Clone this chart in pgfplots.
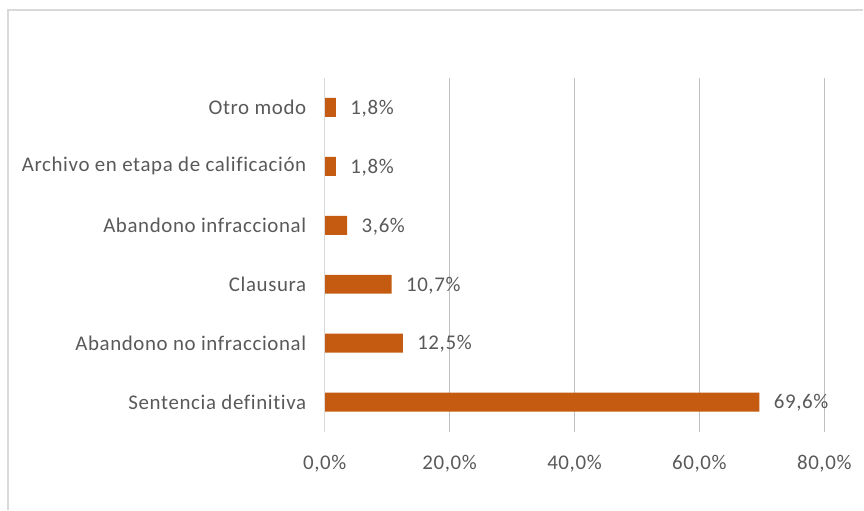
\documentclass[border=0pt]{standalone}
\usepackage{pgfplots}
\pgfplotsset{compat=1.18}
\usepackage{fontspec}
\setmainfont{Carlito}[LetterSpace=3, Ligatures=NoCommon]
\definecolor{barc}{HTML}{C55A11}
\definecolor{txt}{HTML}{595959}
\definecolor{grid}{HTML}{D9D9D9}
\begin{document}
\begin{tikzpicture}[x=1bp,y=1bp]
\path (0,0) rectangle (864,510);
\draw[grid, line width=1.5bp] (8,0) -- (8,500) -- (864,500);
\begin{axis}[
  at={(325bp,78bp)}, anchor=south west,
  scale only axis, width=500bp, height=354bp,
  xbar, bar width=19bp,
  xmin=0, xmax=80, ymin=-0.5, ymax=5.5,
  xtick={0,20,40,60,80},
  xticklabels={{0,0\%},{20,0\%},{40,0\%},{60,0\%},{80,0\%}},
  ytick={0,1,2,3,4,5},
  yticklabels={Sentencia definitiva, Abandono no infraccional, Clausura, Abandono infraccional, Archivo en etapa de calificación, Otro modo},
  xmajorgrids, ymajorgrids=false, major grid style={grid, line width=1.5bp},
  axis line style={draw=none},
  major tick length=0pt,
  tick style={draw=none},
  ticklabel style={font=\fontsize{21}{24}\selectfont, text=txt},
  xticklabel style={yshift=-20bp},
  yticklabel style={xshift=-15bp},
  nodes near coords={\pgfmathprintnumber[fixed,fixed zerofill,precision=1,use comma]{\pgfplotspointmeta}\%},
  every node near coord/.append style={font=\fontsize{21}{24}\selectfont, text=txt, anchor=west, xshift=11bp, yshift=-1bp},
  /pgf/number format/assume math mode=true,
]
\addplot[fill=barc, draw=none] coordinates {(69.6,0) (12.5,1) (10.7,2) (3.6,3) (1.8,4) (1.8,5)};
\end{axis}
\draw[grid, line width=1.5bp] (325,78) -- (325,432);
\end{tikzpicture}
\end{document}
